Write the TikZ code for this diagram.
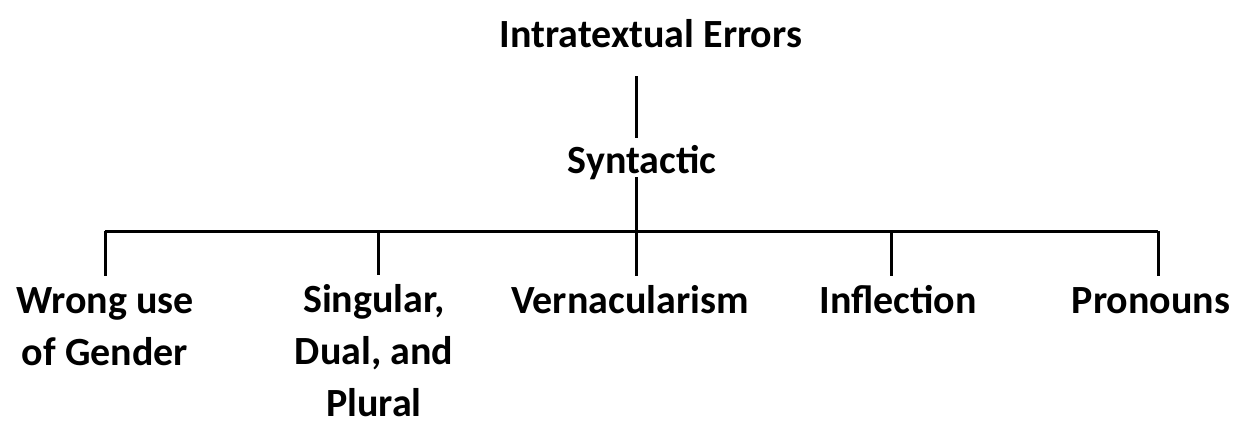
\documentclass[tikz,border=0pt]{standalone}
\usepackage{fontspec}
\setmainfont{Carlito}
\usetikzlibrary{positioning}

\begin{document}
\begin{tikzpicture}[x=1pt,y=-1pt,line width=3pt,
  lbl/.style={inner sep=0pt, align=center, anchor=base, font=\fontsize{40}{52}\selectfont\bfseries}]
\useasboundingbox (0,0) rectangle (1238,421);

\node[lbl] (root) at (651,47) {Intratextual Errors};
\node[lbl] (syn) at (642,173) {Syntactic};

\coordinate (hub) at (636,231);
\coordinate (t1) at (105,231);
\coordinate (t2) at (378,231);
\coordinate (t4) at (891,231);
\coordinate (t5) at (1158,231);

\node[lbl] (gender) at (105,365) {Wrong use\\of Gender};
\node[lbl] (number) at (374,416) {Singular,\\Dual, and\\Plural};
\node[lbl] (vern) at (630,313) {Vernacularism};
\node[lbl] (infl) at (898,313) {Inflection};
\node[lbl] (pron) at (1151,313) {Pronouns};

\draw ([yshift=-29pt]root.base -| hub) -- ([yshift=35pt]syn.base -| hub);
\draw ([yshift=-4pt]syn.base -| hub) -- (hub);
\draw (t1) -- (t5);

\draw (t1) -- ([yshift=89pt]gender.base -| t1);
\draw (t2) -- ([yshift=141pt]number.base -| t2);
\draw (hub) -- ([yshift=37pt]vern.base -| hub);
\draw (t4) -- ([yshift=37pt]infl.base -| t4);
\draw (t5) -- ([yshift=37pt]pron.base -| t5);

\end{tikzpicture}
\end{document}
